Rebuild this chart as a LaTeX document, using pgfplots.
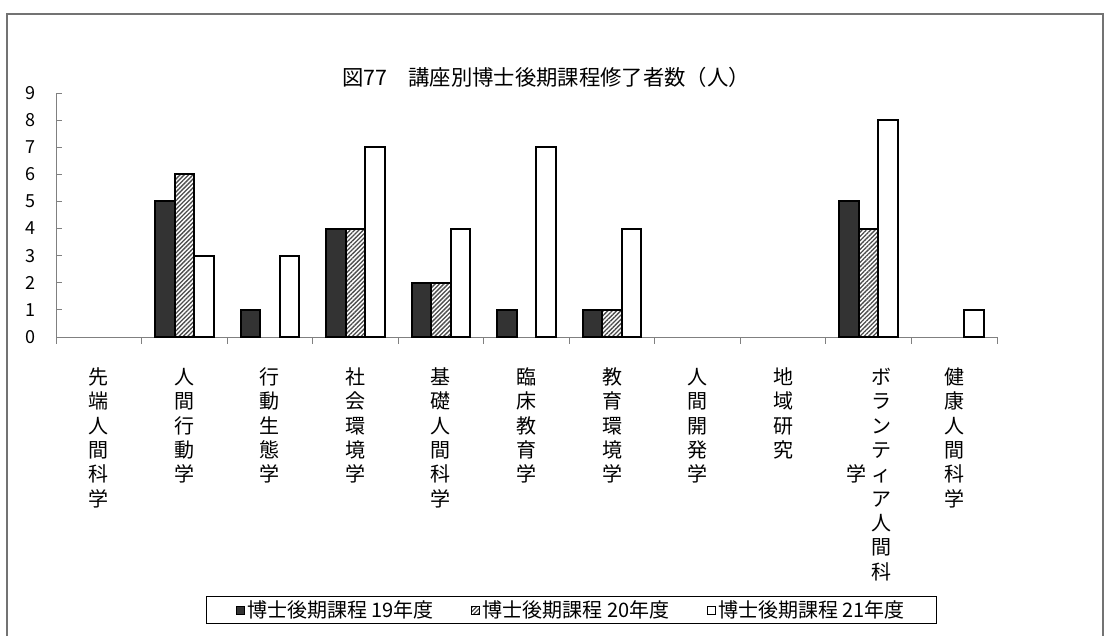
\documentclass[border=0pt]{standalone}
\usepackage{pgfplots}
\pgfplotsset{compat=1.18}
\usepackage{fontspec}
\setmainfont{Noto Sans CJK JP}
\usetikzlibrary{patterns.meta}
\newcommand\VS[1]{\begin{tabular}{@{}c@{}}#1\end{tabular}}
\begin{document}
\begin{tikzpicture}
\begin{scope}[x=0.75pt,y=0.75pt]
\path[fill=white] (0,0) rectangle (1112,636);
\draw[black!55, line width=1.1pt] (7,0) -- (7,622) -- (1103,622) -- (1103,0);
\node[font=\fontsize{16}{19}\selectfont] at (546,559) {図77　講座別博士後期課程修了者数（人）};
\end{scope}
\begin{axis}[
  at={(42pt,224.25pt)}, anchor=south west,
  scale only axis, width=705.75pt, height=183pt,
  xmin=-0.5, xmax=10.5, ymin=0, ymax=9,
  clip=false,
  axis x line*=bottom, axis y line*=left,
  axis line style={draw=black!50, line width=0.75pt, -},
  tick align=inside,
  ytick={0,...,9},
  major tick length=4.3pt,
  minor tick length=5.2pt,
  ytick style={draw=black!50, line width=0.75pt},
  xtick={0,...,10},
  major x tick style={draw=none},
  minor xtick={-0.5,0.5,...,10.5},
  minor x tick style={draw=black!50, line width=0.75pt},
  /pgf/number format/assume math mode=true,
  yticklabel style={font=\fontsize{13.5}{16}\selectfont, xshift=-12pt},
  xticklabel style={font=\fontsize{15}{18.25}\selectfont, anchor=north, yshift=-15pt},
  xticklabels={
    {\VS{先\\端\\人\\間\\科\\学}},
    {\VS{人\\間\\行\\動\\学}},
    {\VS{行\\動\\生\\態\\学}},
    {\VS{社\\会\\環\\境\\学}},
    {\VS{基\\礎\\人\\間\\科\\学}},
    {\VS{臨\\床\\教\\育\\学}},
    {\VS{教\\育\\環\\境\\学}},
    {\VS{人\\間\\開\\発\\学}},
    {\VS{地\\域\\研\\究}},
    {\begin{tabular}{@{}c@{\hspace{4pt}}c@{}}学 & \VS{ボ\\ラ\\ン\\テ\\ィ\\ア\\人\\間\\科}\end{tabular}},
    {\VS{健\\康\\人\\間\\科\\学}}
  },
  ybar=0pt, bar width=0.228,
  every axis plot post/.append style={
    legend image code/.code={\draw[#1, line width=0.5pt] (0pt,-3pt) rectangle (6pt,3pt);}},
  legend columns=3,
  legend style={at={(0.548,-1.119)}, anchor=center, draw=black, line width=0.75pt,
    font=\fontsize{15}{18}\selectfont, inner xsep=22pt, inner ysep=1pt,
    /tikz/every even column/.append style={column sep=26pt},
    nodes={inner xsep=2pt, inner ysep=2pt}},
]
\addplot[fill=black!80, draw=black, line width=1.5pt]
  coordinates {(1,5) (2,1) (3,4) (4,2) (5,1) (6,1) (9,5)};
\addlegendentry{博士後期課程 19年度}
\addplot[pattern={Lines[angle=45, distance=2.3pt, line width=1pt]}, pattern color=black!70, draw=black, line width=1.5pt]
  coordinates {(1,6) (3,4) (4,2) (6,1) (9,4)};
\addlegendentry{博士後期課程 20年度}
\addplot[fill=white, draw=black, line width=1.5pt]
  coordinates {(1,3) (2,3) (3,7) (4,4) (5,7) (6,4) (9,8) (10,1)};
\addlegendentry{博士後期課程 21年度}
\end{axis}
\end{tikzpicture}
\end{document}
